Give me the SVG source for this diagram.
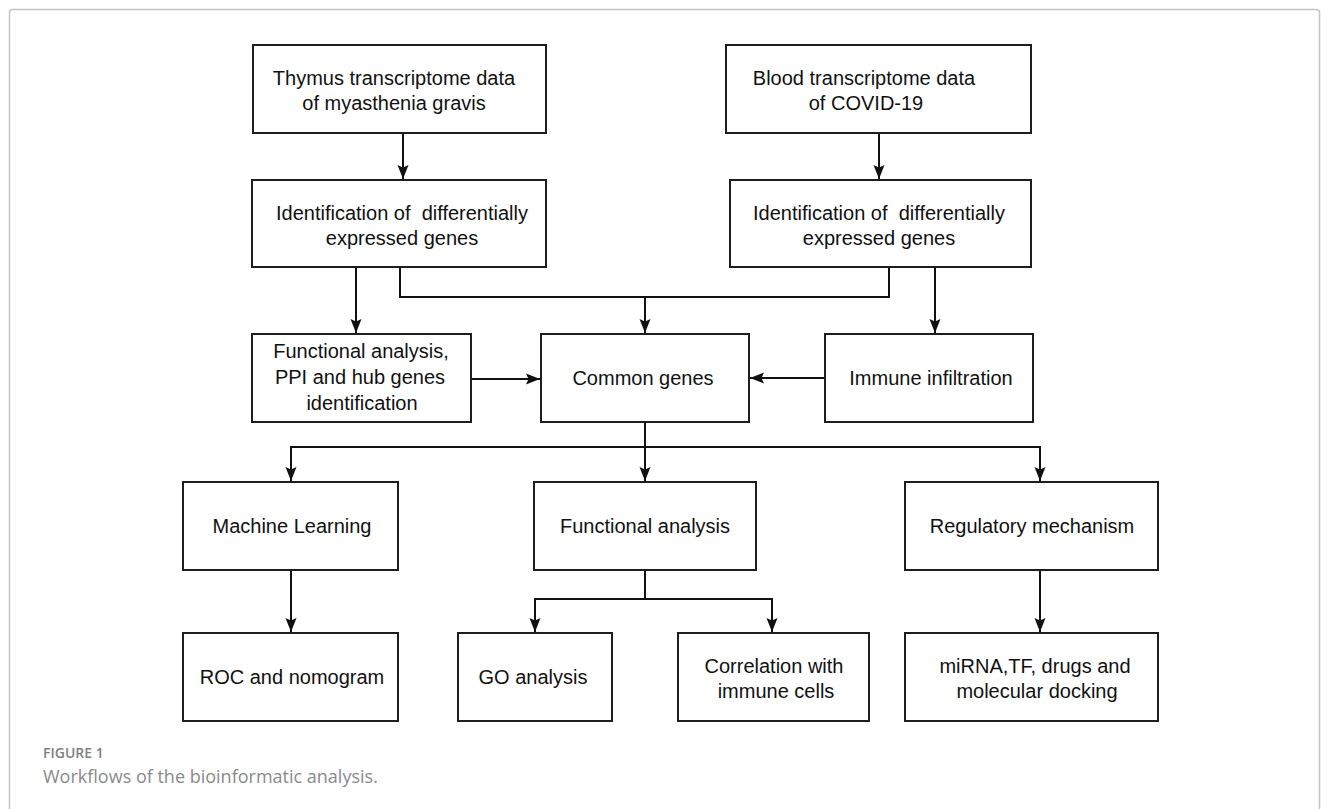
<svg xmlns="http://www.w3.org/2000/svg" width="1333" height="809" viewBox="0 0 1333 809">
<style>
.box{fill:#fff;stroke:#1e1e1e;stroke-width:2}
.t{font-family:"Liberation Sans",Arial,sans-serif;font-size:20px;fill:#111;text-anchor:middle;white-space:pre}
.c{fill:none;stroke:#111;stroke-width:2}
.cap1{font-family:"Open Sans","Noto Sans",sans-serif;font-size:14px;font-weight:600;fill:#808080}
.cap2{font-family:"Open Sans","Noto Sans",sans-serif;font-size:18px;fill:#8a8a8a}
</style>
<defs>
<marker id="ah" markerUnits="userSpaceOnUse" markerWidth="16" markerHeight="12" refX="14" refY="6" orient="auto">
<path d="M0,0.5 L14,6 L0,11.5 L2.5,6 Z" fill="#111"/>
</marker>
</defs>
<rect x="9.5" y="9.5" width="1310" height="830" rx="3" fill="#fff" stroke="#c4c4c4" stroke-width="1.5"/>

<g id="connectors">
<path class="c" d="M403 133 V179" marker-end="url(#ah)"/>
<path class="c" d="M879 133 V179" marker-end="url(#ah)"/>
<path class="c" d="M356 267 V333" marker-end="url(#ah)"/>
<path class="c" d="M935 267 V333" marker-end="url(#ah)"/>
<path class="c" d="M400 267 V297 H889 V267"/>
<path class="c" d="M645 297 V333" marker-end="url(#ah)"/>
<path class="c" d="M471 379 H540" marker-end="url(#ah)"/>
<path class="c" d="M825 378 H750" marker-end="url(#ah)"/>
<path class="c" d="M645 422 V481" marker-end="url(#ah)"/>
<path class="c" d="M645 447 H291 V481" marker-end="url(#ah)"/>
<path class="c" d="M645 447 H1040 V481" marker-end="url(#ah)"/>
<path class="c" d="M291 570 V632" marker-end="url(#ah)"/>
<path class="c" d="M645 570 V599"/>
<path class="c" d="M645 599 H535 V632" marker-end="url(#ah)"/>
<path class="c" d="M645 599 H772 V632" marker-end="url(#ah)"/>
<path class="c" d="M1040 570 V632" marker-end="url(#ah)"/>
</g>

<g id="thymus"><rect class="box" x="253" y="45" width="293" height="88"/>
<text class="t" x="394" y="85">Thymus transcriptome data</text>
<text class="t" x="394" y="110">of myasthenia gravis</text></g>

<g id="blood"><rect class="box" x="726" y="45" width="305" height="88"/>
<text class="t" x="864" y="85">Blood transcriptome data</text>
<text class="t" x="866" y="110">of COVID-19</text></g>

<g id="ident-left"><rect class="box" x="252" y="180" width="294" height="87"/>
<text class="t" x="402" y="220">Identification of  differentially</text>
<text class="t" x="402" y="245">expressed genes</text></g>

<g id="ident-right"><rect class="box" x="730" y="180" width="301" height="87"/>
<text class="t" x="879" y="220">Identification of  differentially</text>
<text class="t" x="879" y="245">expressed genes</text></g>

<g id="functional-ppi"><rect class="box" x="252" y="334" width="219" height="88"/>
<text class="t" x="361" y="358">Functional analysis,</text>
<text class="t" x="360" y="384">PPI and hub genes</text>
<text class="t" x="362" y="410">identification</text></g>

<g id="common"><rect class="box" x="541" y="334" width="208" height="88"/>
<text class="t" x="643" y="385">Common genes</text></g>

<g id="immune"><rect class="box" x="825" y="334" width="208" height="88"/>
<text class="t" x="931" y="385">Immune infiltration</text></g>

<g id="machine-learning"><rect class="box" x="183" y="482" width="215" height="88"/>
<text class="t" x="292" y="533">Machine Learning</text></g>

<g id="functional"><rect class="box" x="534" y="482" width="222" height="88"/>
<text class="t" x="645" y="533">Functional analysis</text></g>

<g id="regulatory"><rect class="box" x="905" y="482" width="253" height="88"/>
<text class="t" x="1032" y="533">Regulatory mechanism</text></g>

<g id="roc"><rect class="box" x="183" y="633" width="215" height="88"/>
<text class="t" x="292" y="684">ROC and nomogram</text></g>

<g id="go"><rect class="box" x="458" y="633" width="154" height="88"/>
<text class="t" x="533" y="684">GO analysis</text></g>

<g id="correlation"><rect class="box" x="678" y="633" width="191" height="88"/>
<text class="t" x="774" y="673">Correlation with</text>
<text class="t" x="776" y="698">immune cells</text></g>

<g id="mirna"><rect class="box" x="905" y="633" width="253" height="88"/>
<text class="t" x="1035" y="673">miRNA,TF, drugs and</text>
<text class="t" x="1037" y="698">molecular docking</text></g>

<g id="caption">
<text class="cap1" x="43" y="758">FIGURE 1</text>
<text class="cap2" x="43" y="783">Workflows of the bioinformatic analysis.</text>
</g>
</svg>
